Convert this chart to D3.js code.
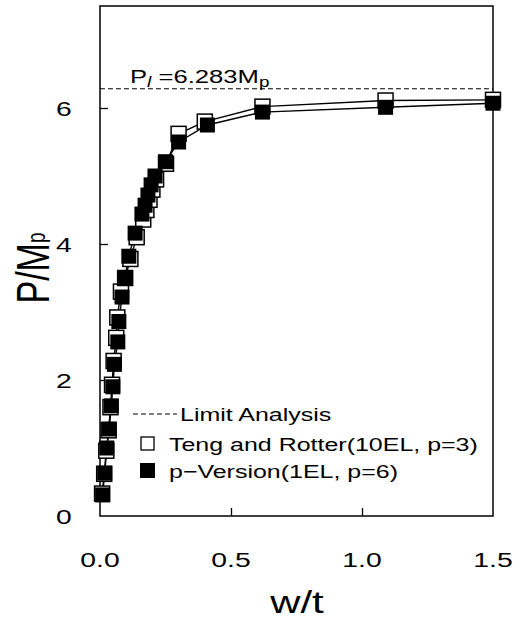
<!DOCTYPE html>
<html>
<head>
<meta charset="utf-8">
<script src="https://cdn.jsdelivr.net/npm/d3@7"></script>
<style>
  body { margin: 0; background: #fff; }
  svg { display: block; font-family: "Liberation Sans", Arial, sans-serif; }
</style>
</head>
<body>
<svg width="524" height="621"></svg>
<script>
// p-Version (1EL, p=6) - filled squares
var pverX = [0.010, 0.018, 0.026, 0.035, 0.043, 0.049, 0.055, 0.068, 0.072, 0.084, 0.095, 0.110,
  0.134, 0.160, 0.172, 0.183, 0.195, 0.210, 0.250, 0.300, 0.410, 0.620, 1.090, 1.500];
var pverY = [0.31, 0.63, 1.00, 1.28, 1.62, 1.90, 2.23, 2.56, 2.86, 3.22, 3.50, 3.82,
  4.16, 4.44, 4.57, 4.72, 4.87, 5.00, 5.21, 5.50, 5.75, 5.94, 6.01, 6.07];

// Teng and Rotter (10EL, p=3) - open squares
var tengX = [0.008, 0.016, 0.024, 0.033, 0.040, 0.046, 0.052, 0.062, 0.066, 0.080, 0.096, 0.116,
  0.140, 0.165, 0.177, 0.189, 0.200, 0.214, 0.252, 0.300, 0.400, 0.620, 1.090, 1.500];
var tengY = [0.33, 0.62, 0.96, 1.26, 1.60, 1.93, 2.28, 2.62, 2.92, 3.30, 3.50, 3.78,
  4.10, 4.36, 4.50, 4.65, 4.80, 4.95, 5.18, 5.62, 5.80, 6.02, 6.11, 6.12];

var limitLoad = 6.283;
var xTicks = [0.0, 0.5, 1.0, 1.5];
var yTicks = [0, 2, 4, 6];
var legendLabels = ['Limit Analysis', 'Teng and Rotter(10EL, p=3)', 'p\u2212Version(1EL, p=6)'];

var svg = d3.select('svg');
var sx = 1.35; // glyphs in the original look stretched horizontally

var x = d3.scaleLinear().domain([0, 1.5]).range([100, 493]);
var y = d3.scaleLinear().domain([0, 7.5]).range([516, 6]);

function label(g, px, py, txt, size, anchor) {
  return g.append('text')
    .attr('transform', 'translate(' + px + ',' + py + ') scale(' + sx + ',1)')
    .attr('text-anchor', anchor || 'start')
    .attr('font-size', size)
    .text(txt);
}

// frame
svg.append('rect')
  .attr('x', x(0)).attr('y', y(7.5))
  .attr('width', x(1.5) - x(0)).attr('height', y(0) - y(7.5))
  .attr('fill', 'none').attr('stroke', '#000').attr('stroke-width', 1.5);

// inward ticks
svg.append('g').attr('transform', 'translate(' + x(0) + ',0)')
  .call(d3.axisRight(y).tickValues(yTicks.slice(1)).tickSize(8).tickFormat(''))
  .call(function(g) { g.select('.domain').remove(); });
svg.append('g').attr('transform', 'translate(0,' + y(0) + ')')
  .call(d3.axisTop(x).tickValues([0.5, 1.0]).tickSize(8).tickFormat(''))
  .call(function(g) { g.select('.domain').remove(); });
svg.selectAll('.tick line').attr('stroke-width', 1.3);

// tick labels
yTicks.forEach(function(v) {
  label(svg, 64, y(v) + 8, String(v), 21, 'middle');
});
xTicks.forEach(function(v) {
  label(svg, x(v), 567, v.toFixed(1), 21, 'middle');
});

// axis titles
var yt = svg.append('text')
  .attr('transform', 'translate(49,268) rotate(-90) scale(1,' + sx + ')')
  .attr('text-anchor', 'middle')
  .attr('font-size', 34);
yt.append('tspan').text('P/M');
yt.append('tspan').attr('font-size', 19).attr('dy', -3).text('p');

svg.append('text')
  .attr('transform', 'translate(297,613) scale(' + sx + ',1)')
  .attr('text-anchor', 'middle')
  .attr('font-size', 31)
  .text('w/t');

// limit line
svg.append('line')
  .attr('x1', x(0)).attr('x2', x(1.5))
  .attr('y1', y(limitLoad)).attr('y2', y(limitLoad))
  .attr('stroke', '#000').attr('stroke-width', 1.2).attr('stroke-dasharray', '5,3');

var lt = svg.append('text')
  .attr('transform', 'translate(130,83) scale(' + sx + ',1)')
  .attr('font-size', 19);
lt.append('tspan').text('P');
lt.append('tspan').attr('font-size', 14).attr('dy', 4).attr('font-style', 'italic').text('l');
lt.append('tspan').attr('dy', -4).text(' =6.283M');
lt.append('tspan').attr('font-size', 14).attr('dy', 4).text('p');

// series
var teng = d3.range(tengX.length).map(function(i) { return [tengX[i], tengY[i]]; });
var pver = d3.range(pverX.length).map(function(i) { return [pverX[i], pverY[i]]; });
var line = d3.line().x(function(d) { return x(d[0]); }).y(function(d) { return y(d[1]); });

svg.append('path').datum(teng).attr('d', line)
  .attr('fill', 'none').attr('stroke', '#000').attr('stroke-width', 1.4);
svg.append('path').datum(pver).attr('d', line)
  .attr('fill', 'none').attr('stroke', '#000').attr('stroke-width', 1.4);

var s = 15;
svg.append('g').selectAll('rect').data(teng).enter().append('rect')
  .attr('x', function(d) { return x(d[0]) - s / 2; })
  .attr('y', function(d) { return y(d[1]) - s / 2; })
  .attr('width', s).attr('height', s)
  .attr('fill', '#fff').attr('stroke', '#000').attr('stroke-width', 1.5);
svg.append('g').selectAll('rect').data(pver).enter().append('rect')
  .attr('x', function(d) { return x(d[0]) - s / 2; })
  .attr('y', function(d) { return y(d[1]) - s / 2; })
  .attr('width', s).attr('height', s)
  .attr('fill', '#000');

// legend
var leg = svg.append('g');
leg.append('line').attr('x1', 133).attr('x2', 177).attr('y1', 414).attr('y2', 414)
  .attr('stroke', '#000').attr('stroke-width', 1.2).attr('stroke-dasharray', '5,3');
label(leg, 180, 421, legendLabels[0], 18.5);
leg.append('rect').attr('x', 141).attr('y', 437).attr('width', 13).attr('height', 13)
  .attr('fill', '#fff').attr('stroke', '#000').attr('stroke-width', 1.3);
label(leg, 169, 451, legendLabels[1], 18.5);
leg.append('rect').attr('x', 140).attr('y', 463).attr('width', 15).attr('height', 15)
  .attr('fill', '#000');
label(leg, 169, 478, legendLabels[2], 18.5);
</script>
</body>
</html>
